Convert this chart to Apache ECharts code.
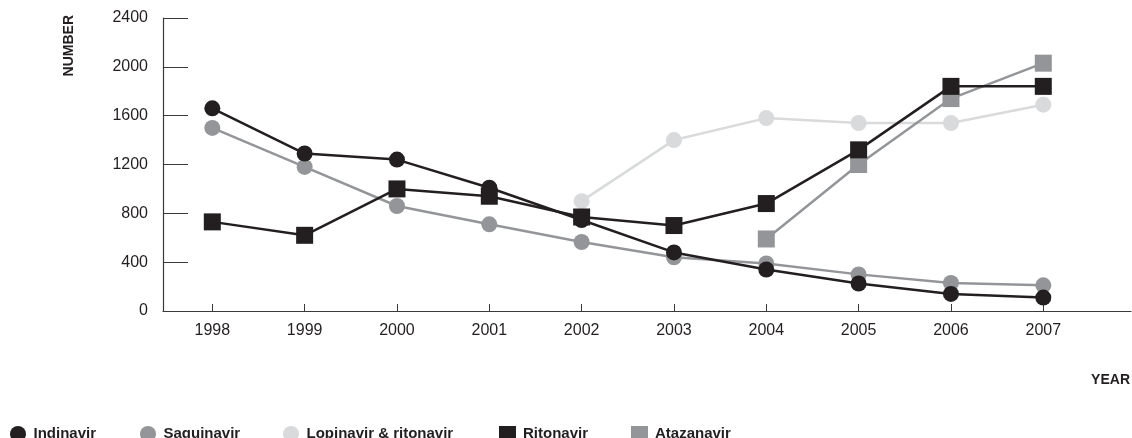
<!DOCTYPE html>
<html><head><meta charset="utf-8">
<script src="https://cdn.jsdelivr.net/npm/echarts@6/dist/echarts.min.js"></script>
<style>html,body{margin:0;padding:0;background:#fff}#c{width:1132px;height:438px}</style>
</head><body><div id="c"></div>
<script>
const years = [1998,1999,2000,2001,2002,2003,2004,2005,2006,2007];
const yTicks = [0,400,800,1200,1600,2000,2400];
const indinavir = [1660,1290,1240,1010,745,480,340,225,140,110];
const saquinavir = [1500,1180,860,710,565,440,390,300,230,210];
const lopinavir = [null,null,null,null,900,1400,1580,1540,1540,1690];
const ritonavir = [730,620,1000,940,770,700,880,1320,1840,1840];
const atazanavir = [null,null,null,null,null,null,590,1200,1740,2030];

const BLACK='#231f20', GRAY='#939598', LIGHT='#d9dadb';
const FONT='"Liberation Sans","Helvetica","Arial",sans-serif';

function pts(arr){return years.map((y,i)=>[y,arr[i]]).filter(p=>p[1]!=null);}
function mk(name,arr,color,symbol,size,z){
  return {name,type:'line',data:pts(arr),symbol,symbolSize:size,z,
    lineStyle:{color,width:2.5},itemStyle:{color},emphasis:{disabled:true},animation:false};
}
const series=[
  mk('Lopinavir & ritonavir',lopinavir,LIGHT,'circle',16,1),
  mk('Atazanavir',atazanavir,GRAY,'rect',17,2),
  mk('Saquinavir',saquinavir,GRAY,'circle',16,3),
  mk('Indinavir',indinavir,BLACK,'circle',16,4),
  mk('Ritonavir',ritonavir,BLACK,'rect',17,5)
];
const legendPos=[['Indinavir',5],['Saquinavir',135],['Lopinavir & ritonavir',278],['Ritonavir',494],['Atazanavir',626]];
const legends=legendPos.map(([n,l])=>({data:[n],left:l,top:421,itemWidth:17,itemHeight:16,itemGap:0,
  icon:(n==='Ritonavir'||n==='Atazanavir')?'rect':'circle',
  textStyle:{fontFamily:FONT,fontWeight:'bold',fontSize:15,color:BLACK,padding:[0,0,0,2]},selectedMode:false}));

const chart=echarts.init(document.getElementById('c'),null,{renderer:'canvas'});
chart.setOption({
  animation:false,
  grid:{left:163,top:18,right:1,bottom:127,containLabel:false},
  legend:legends,
  xAxis:{type:'value',min:1997.466,max:2007.95,
    axisLine:{show:true,lineStyle:{color:'#3a3a3a',width:1.2}},
    axisTick:{show:true,inside:true,length:7,customValues:years,lineStyle:{color:'#3a3a3a'}},
    axisLabel:{customValues:years,color:BLACK,fontFamily:FONT,fontSize:16,margin:12,formatter:v=>String(v)},
    splitLine:{show:false}},
  yAxis:{type:'value',min:0,max:2400,interval:400,
    axisLine:{show:true,lineStyle:{color:'#3a3a3a',width:1.2}},
    axisTick:{show:true,inside:true,length:25,lineStyle:{color:'#3a3a3a'}},
    axisLabel:{color:BLACK,fontFamily:FONT,fontSize:16,margin:15,customValues:yTicks,formatter:v=>String(v)},
    splitLine:{show:false}},
  graphic:[
    {type:'text',left:62,top:15,rotation:Math.PI/2,style:{text:'NUMBER',font:'bold 14px '+FONT,fill:BLACK}},
    {type:'text',right:2,top:373,style:{text:'YEAR',font:'bold 14px '+FONT,fill:BLACK}}
  ],
  series
});
</script></body></html>
